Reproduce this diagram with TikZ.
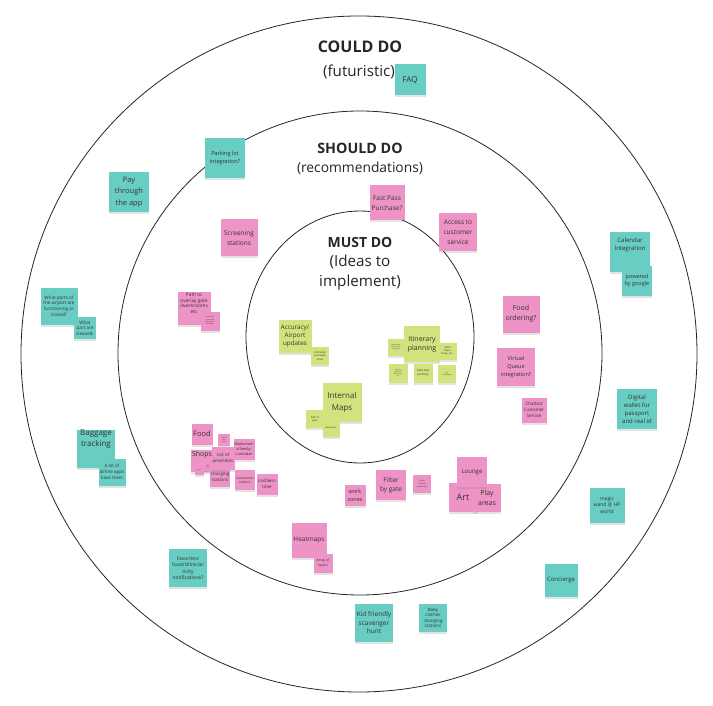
\documentclass[tikz,border=0pt]{standalone}
\usepackage{fontspec}
\setmainfont{Open Sans}
\usetikzlibrary{shadows}
\definecolor{tl}{HTML}{68CDC3}
\definecolor{pk}{HTML}{EE93C5}
\definecolor{lm}{HTML}{D1E37C}
\definecolor{txt}{HTML}{333333}
\newcommand\fs[2]{\fontsize{#1}{#2}\selectfont}
\tikzset{
  note/.style={minimum width=#1pt, minimum height=#1pt, inner sep=0pt, align=center, text=txt,
    drop shadow={shadow xshift=0pt, shadow yshift=-2pt, opacity=0.22}},
  tnote/.style={note=#1, fill=tl},
  pnote/.style={note=#1, fill=pk},
  lnote/.style={note=#1, fill=lm},
  ring/.style={draw=black!85, line width=0.8pt},
  head/.style={font=\fs{#1}{19}\bfseries, text=black!85},
  sub/.style={font=\fs{#1}{20}, text=black!85, align=center}
}
\begin{document}
\begin{tikzpicture}[x=1pt,y=-1pt]
\useasboundingbox (0,0) rectangle (713,706);
\fill[white] (0,0) rectangle (713,706);
% rings
\draw[ring] (359,354) circle[x radius=338pt, y radius=338pt];
\draw[ring] (360,353) circle[x radius=242pt, y radius=242pt];
\draw[ring] (360,337) circle[x radius=114pt, y radius=126pt];
% headings
\node[head=16] (could) at (360,47) {COULD DO};
\node[sub=15.2] (couldsub) at (359,72) {(futuristic)};
\node[head=14.3] (should) at (360,148) {SHOULD DO};
\node[sub=13.8] (shouldsub) at (360,168) {(recommendations)};
\node[head=14] (must) at (360,242) {MUST DO};
\node[sub=15.2] (mustsub) at (360,273) {(Ideas to\\implement)};
% ---- teal (could do)
\node[tnote=31, font=\fs{8}{10}] (faq) at (410,80) {FAQ};
\node[tnote=40, font=\fs{5.5}{8}] (park) at (225,158) {Parking lot\\integration?};
\node[tnote=40, font=\fs{7.5}{11.5}] (pay) at (129,192) {Pay\\through\\the app};
\node[tnote=40, font=\fs{6}{8}] (cal) at (630,252) {Calendar\\Integration\\[8pt]};
\node[tnote=30, font=\fs{5.5}{7}] (pow) at (637,281) {powered\\by google};
\node[tnote=37, font=\fs{4.6}{5.6}] (what) at (59,306) {What parts of\\the airport are\\functioning or\\closed?};
\node[tnote=22, font=\fs{4.5}{5.5}] (whatc) at (85,328) {What\\part are\\cleaned.};
\node[tnote=38, font=\fs{8}{11}] (bag) at (96,449) {Baggage\\tracking\\[10pt]};
\node[tnote=27, font=\fs{4.5}{6}] (alot) at (112,472) {A lot of\\airline apps\\have them};
\node[tnote=40, font=\fs{6}{8}] (dig) at (637,409) {Digital\\wallet for\\passport\\and real id};
\node[tnote=35, font=\fs{5}{6.5}] (magic) at (607,505) {magic\\wand @ HP\\world};
\node[tnote=33, font=\fs{6}{8}] (conc) at (561,580) {Concierge};
\node[tnote=38, font=\fs{5}{6.5}] (fav) at (188,568) {Favorites/\\food/drink/ac\\tivity\\notifications?};
\node[tnote=38, font=\fs{6.5}{8.5}] (kid) at (374,623) {Kid friendly\\scavenger\\hunt};
\node[tnote=28, font=\fs{4.5}{5.5}] (baby) at (433,618) {Baby\\clothes\\changing\\stations};
% ---- pink (should do)
\node[pnote=35, font=\fs{6.5}{10}] (fast) at (387,203) {Fast Pass\\Purchase?};
\node[pnote=38, font=\fs{6.5}{10}] (access) at (458,232) {Access to\\customer\\service};
\node[pnote=37, font=\fs{6.5}{10}] (screen) at (239,238) {Screening\\stations};
\node[pnote=33, font=\fs{4.8}{5.8}] (path) at (194,308) {Path to\\overlay gate\\/washrooms\\etc\\[4pt]};
\node[pnote=19, font=\fs{1.6}{2.3}] (pathsm) at (210,321) {Accessible\\routes and\\wait times to\\each gate};
\node[pnote=37, font=\fs{7}{10}] (foodord) at (521,314) {Food\\ordering?};
\node[pnote=38, font=\fs{5.5}{8}] (virt) at (516,367) {Virtual\\Queue\\Integration?};
\node[pnote=25, font=\fs{4.5}{6}] (chat) at (534,410) {Chatbot\\Customer\\Service};
\node[pnote=21, font=\fs{7.5}{9}] (food) at (202,434) {Food};
\node[pnote=12, font=\fs{1.6}{2.2}] (tinyf) at (224,440) {Stay by\\the\\gate};
\node[pnote=21, font=\fs{3.8}{4.8}] (wash) at (244,449) {Washroom\\s/family/\\Caretaker};
\node[pnote=22, font=\fs{7}{9}] (shops) at (202,461) {Shops\\[6pt]};
\node[pnote=9, font=\fs{1.5}{2}] (shopsa) at (199,470) {items};
\node[pnote=8, font=\fs{1.5}{2}] (shopsb) at (208,467) {Bath\\bit};
\node[pnote=20, font=\fs{4.5}{5.5}] (charg) at (220,477) {Charging\\stations};
\node[pnote=23, font=\fs{4.5}{5.5}] (list) at (223,458) {List of\\amenities};
\node[pnote=20, font=\fs{3.2}{4.2}] (sanit) at (245,480) {Sanitization\\stations};
\node[pnote=21, font=\fs{4.5}{6}] (cash) at (267,484) {cashless\\time};
\node[pnote=21, font=\fs{5.5}{8}] (work) at (355,495) {work\\zones};
\node[pnote=30, font=\fs{6.5}{9}] (filter) at (391,485) {Filter\\by gate};
\node[pnote=18, font=\fs{2}{2.6}] (stress) at (422,484) {Stress\\feeling\\predictions};
\node[pnote=28, font=\fs{7}{10}] (play) at (487,498) {Play\\areas};
\node[pnote=29, font=\fs{9}{10}] (art) at (463,497) {Art};
\node[pnote=30, font=\fs{6}{8}] (lounge) at (472,472) {Lounge};
\node[pnote=35, font=\fs{6.5}{8}] (heat) at (309,540) {Heatmaps};
\node[pnote=19, font=\fs{3.5}{4.5}] (array) at (323,563) {Array of\\layers};
% ---- lime (must do)
\node[lnote=33, font=\fs{6.3}{8.3}] (acc) at (295,336) {Accuracy/\\Airport\\updates};
\node[lnote=18, font=\fs{2.5}{3.3}] (est) at (320,356) {Estimated\\wait/walk\\times};
\node[lnote=17, font=\fs{1.6}{2.2}] (itl) at (396,347) {Recommend\\places near\\your gate};
\node[lnote=17, font=\fs{2.5}{3.2}] (itr) at (448,351) {Extra\\Steps -\\flows, etc...};
\node[lnote=36, font=\fs{7}{9}] (itin) at (422,344) {Itinerary\\planning};
\node[lnote=19, font=\fs{1.6}{2.2}] (itbl) at (398,373) {Have the\\option to\\add to your\\cal};
\node[lnote=19, font=\fs{3}{4}] (save) at (423,373) {Save last\\journey};
\node[lnote=18, font=\fs{1.8}{2.4}] (itbr) at (447,374) {Pay\\Proactively};
\node[lnote=39, font=\fs{8}{12}] (imaps) at (342,402) {Internal\\Maps};
\node[lnote=18, font=\fs{2.5}{3.3}] (pathg) at (315,419) {Path to\\gate};
\node[lnote=17, font=\fs{2.3}{3}] (heats) at (331,428) {Heatmaps};
\end{tikzpicture}
\end{document}
